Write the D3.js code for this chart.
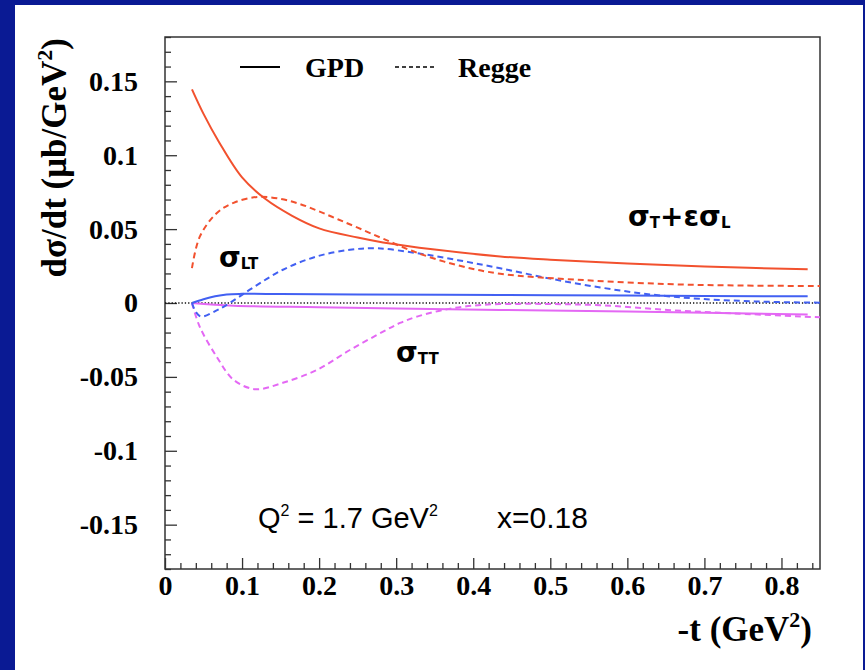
<!DOCTYPE html>
<html>
<head>
<meta charset="utf-8">
<script src="https://cdn.jsdelivr.net/npm/d3@7"></script>
<style>
  html, body { margin: 0; padding: 0; background: #0a1a94; }
  svg { display: block; }
</style>
</head>
<body>
<script>
// -t values (GeV^2) and cross sections (μb/GeV^2) for each model curve
const gpdSigmaT_t   = [0.035, 0.05, 0.07, 0.1, 0.13, 0.165, 0.2, 0.25, 0.283, 0.35, 0.435, 0.5, 0.6, 0.7, 0.834];
const gpdSigmaT_v   = [0.1446, 0.128, 0.109, 0.085, 0.0705, 0.059, 0.0505, 0.0443, 0.041, 0.0362, 0.0315, 0.0293, 0.0268, 0.0247, 0.0228];

const reggeSigmaT_t = [0.035, 0.045, 0.067, 0.089, 0.12, 0.15, 0.175, 0.2, 0.225, 0.25, 0.283, 0.327, 0.38, 0.435, 0.543, 0.652, 0.75, 0.85];
const reggeSigmaT_v = [0.0236, 0.0447, 0.0608, 0.0678, 0.0718, 0.0705, 0.067, 0.062, 0.0565, 0.051, 0.0435, 0.034, 0.0255, 0.0198, 0.0155, 0.0128, 0.0118, 0.0115];

const gpdSigmaLT_t  = [0.035, 0.05, 0.065, 0.08, 0.1, 0.15, 0.25, 0.435, 0.6, 0.834];
const gpdSigmaLT_v  = [0, 0.0025, 0.0045, 0.0058, 0.0062, 0.0061, 0.0058, 0.0054, 0.005, 0.0045];

const reggeSigmaLT_t = [0.035, 0.04, 0.047, 0.067, 0.084, 0.11, 0.153, 0.197, 0.24, 0.275, 0.327, 0.38, 0.435, 0.5, 0.565, 0.63, 0.695, 0.77, 0.85];
const reggeSigmaLT_v = [0, -0.006, -0.0092, -0.005, 0, 0.009, 0.0225, 0.0315, 0.036, 0.037, 0.0337, 0.029, 0.0235, 0.0165, 0.0105, 0.0058, 0.0028, 0.001, 0.0002];

const gpdSigmaTT_t  = [0.035, 0.089, 0.2, 0.3, 0.435, 0.6, 0.834];
const gpdSigmaTT_v  = [0, -0.0018, -0.0028, -0.0038, -0.0047, -0.0058, -0.0077];

const reggeSigmaTT_t = [0.035, 0.045, 0.067, 0.089, 0.117, 0.153, 0.197, 0.24, 0.283, 0.305, 0.327, 0.37, 0.413, 0.46, 0.5, 0.565, 0.652, 0.738, 0.85];
const reggeSigmaTT_v = [0, -0.016, -0.0363, -0.052, -0.0583, -0.054, -0.0453, -0.0318, -0.0194, -0.0135, -0.0092, -0.0038, -0.0012, -0.0006, -0.0007, -0.0015, -0.0047, -0.007, -0.0097];

// axis ticks
const xMajorTicks = [0, 0.1, 0.2, 0.3, 0.4, 0.5, 0.6, 0.7, 0.8];
const xTickLabels = ["0", "0.1", "0.2", "0.3", "0.4", "0.5", "0.6", "0.7", "0.8"];
const yMajorTicks = [-0.15, -0.1, -0.05, 0, 0.05, 0.1, 0.15];
const yTickLabels = ["-0.15", "-0.1", "-0.05", "0", "0.05", "0.1", "0.15"];

const W = 865, H = 670;
const frame = { left: 165, right: 820, top: 37, bottom: 569 };

const svg = d3.select("body").append("svg").attr("width", W).attr("height", H);
svg.append("rect").attr("x", 0).attr("y", 0).attr("width", W).attr("height", H).attr("fill", "#0a1a94");
svg.append("rect").attr("x", 15).attr("y", 5).attr("width", 848).attr("height", 665).attr("fill", "#ffffff");

const x = d3.scaleLinear().domain([0, 0.85]).range([frame.left, frame.right]);
const y = d3.scaleLinear().domain([-0.18, 0.18]).range([frame.bottom, frame.top]);

const serif = "'Liberation Serif', 'Times New Roman', serif";
const sans = "'Liberation Sans', Arial, sans-serif";

// minor ticks
const xMinor = d3.range(0, 0.851, 0.02).filter(v => !xMajorTicks.some(m => Math.abs(m - v) < 1e-6));
const yMinor = d3.range(-0.18, 0.1801, 0.01).filter(v => !yMajorTicks.some(m => Math.abs(m - v) < 1e-6));

const axisColor = "#333";

const gx = svg.append("g").attr("transform", `translate(0,${frame.bottom})`);
gx.call(d3.axisBottom(x).tickValues(xMajorTicks).tickSize(-11).tickPadding(6)
  .tickFormat((d, i) => xTickLabels[i]));
gx.append("g").call(d3.axisBottom(x).tickValues(xMinor).tickSize(-6).tickFormat(""));

const gy = svg.append("g").attr("transform", `translate(${frame.left},0)`);
gy.call(d3.axisLeft(y).tickValues(yMajorTicks).tickSize(-12).tickPadding(27)
  .tickFormat((d, i) => yTickLabels[i]));
gy.append("g").call(d3.axisLeft(y).tickValues(yMinor).tickSize(-6).tickFormat(""));

svg.selectAll(".domain").remove();
svg.selectAll(".tick line").attr("stroke", axisColor).attr("stroke-width", 1.3);
svg.selectAll(".tick text")
  .attr("font-family", serif).attr("font-weight", "bold").attr("font-size", 28).attr("fill", "#000");

// frame
svg.append("rect")
  .attr("x", frame.left).attr("y", frame.top)
  .attr("width", frame.right - frame.left).attr("height", frame.bottom - frame.top)
  .attr("fill", "none").attr("stroke", axisColor).attr("stroke-width", 1.5);

// zero line
svg.append("line")
  .attr("x1", frame.left).attr("x2", frame.right)
  .attr("y1", y(0)).attr("y2", y(0))
  .attr("stroke", "#111").attr("stroke-width", 1.3).attr("stroke-dasharray", "1.3,2");

const line = d3.line().x(d => x(d[0])).y(d => y(d[1])).curve(d3.curveCatmullRom.alpha(0.5));
const zip = (a, b) => a.map((t, i) => [t, b[i]]);

const red = "#f2512e", blue = "#4260f2", magenta = "#e468f4";
const dash = "6,4";

const curves = [
  { t: reggeSigmaTT_t, v: reggeSigmaTT_v, color: magenta, dashed: true },
  { t: gpdSigmaTT_t, v: gpdSigmaTT_v, color: magenta, dashed: false },
  { t: reggeSigmaLT_t, v: reggeSigmaLT_v, color: blue, dashed: true },
  { t: gpdSigmaLT_t, v: gpdSigmaLT_v, color: blue, dashed: false },
  { t: reggeSigmaT_t, v: reggeSigmaT_v, color: red, dashed: true },
  { t: gpdSigmaT_t, v: gpdSigmaT_v, color: red, dashed: false }
];

const plot = svg.append("g");
curves.forEach(c => {
  plot.append("path")
    .attr("d", line(zip(c.t, c.v)))
    .attr("fill", "none")
    .attr("stroke", c.color)
    .attr("stroke-width", 2)
    .attr("stroke-dasharray", c.dashed ? dash : null);
});

// legend
const leg = svg.append("g");
leg.append("line").attr("x1", 240).attr("x2", 280).attr("y1", 67).attr("y2", 67)
  .attr("stroke", "#000").attr("stroke-width", 2);
leg.append("text").attr("x", 305).attr("y", 77).text("GPD")
  .attr("font-family", serif).attr("font-weight", "bold").attr("font-size", 28);
leg.append("line").attr("x1", 395).attr("x2", 435).attr("y1", 67).attr("y2", 67)
  .attr("stroke", "#000").attr("stroke-width", 1.5).attr("stroke-dasharray", "4,3");
leg.append("text").attr("x", 458).attr("y", 77).text("Regge")
  .attr("font-family", serif).attr("font-weight", "bold").attr("font-size", 28);

// curve labels
function sigmaLabel(px, py, parts) {
  const t = svg.append("text").attr("x", px).attr("y", py)
    .attr("font-family", "'DejaVu Sans', sans-serif").attr("font-weight", "bold").attr("fill", "#000");
  parts.forEach(p => {
    const s = t.append("tspan").text(p.text).attr("font-size", p.sub ? 15 : 28);
    if (p.dy !== undefined) s.attr("dy", p.dy);
  });
  return t;
}
sigmaLabel(219, 267, [{ text: "σ" }, { text: "LT", sub: true, dy: 2 }]);
sigmaLabel(396, 362, [{ text: "σ" }, { text: "TT", sub: true, dy: 2 }]);
sigmaLabel(628, 226, [
  { text: "σ" }, { text: "T", sub: true, dy: 2 },
  { text: "+εσ", dy: -2 }, { text: "L", sub: true, dy: 2 }
]);

// kinematics
const kin = svg.append("text").attr("x", 258).attr("y", 528)
  .attr("font-family", sans).attr("font-size", 29).attr("fill", "#000");
kin.append("tspan").text("Q");
kin.append("tspan").text("2").attr("font-size", 16).attr("dy", -12);
kin.append("tspan").text(" = 1.7 GeV").attr("dy", 12);
kin.append("tspan").text("2").attr("font-size", 16).attr("dy", -12);
svg.append("text").attr("x", 497).attr("y", 528).text("x=0.18")
  .attr("font-family", sans).attr("font-size", 30).attr("fill", "#000");

// axis titles
const xt = svg.append("text").attr("x", 812).attr("y", 641).attr("text-anchor", "end")
  .attr("font-family", serif).attr("font-weight", "bold").attr("font-size", 35).attr("fill", "#000");
xt.append("tspan").text("-t (GeV");
xt.append("tspan").text("2").attr("font-size", 22).attr("dy", -14);
xt.append("tspan").text(")").attr("dy", 14);

const yt = svg.append("text")
  .attr("transform", `translate(66,38) rotate(-90)`).attr("text-anchor", "end")
  .attr("font-family", serif).attr("font-weight", "bold").attr("font-size", 35).attr("fill", "#000");
yt.append("tspan").text("dσ/dt (μb/GeV");
yt.append("tspan").text("2").attr("font-size", 22).attr("dy", -14);
yt.append("tspan").text(")").attr("dy", 14);
</script>
</body>
</html>
